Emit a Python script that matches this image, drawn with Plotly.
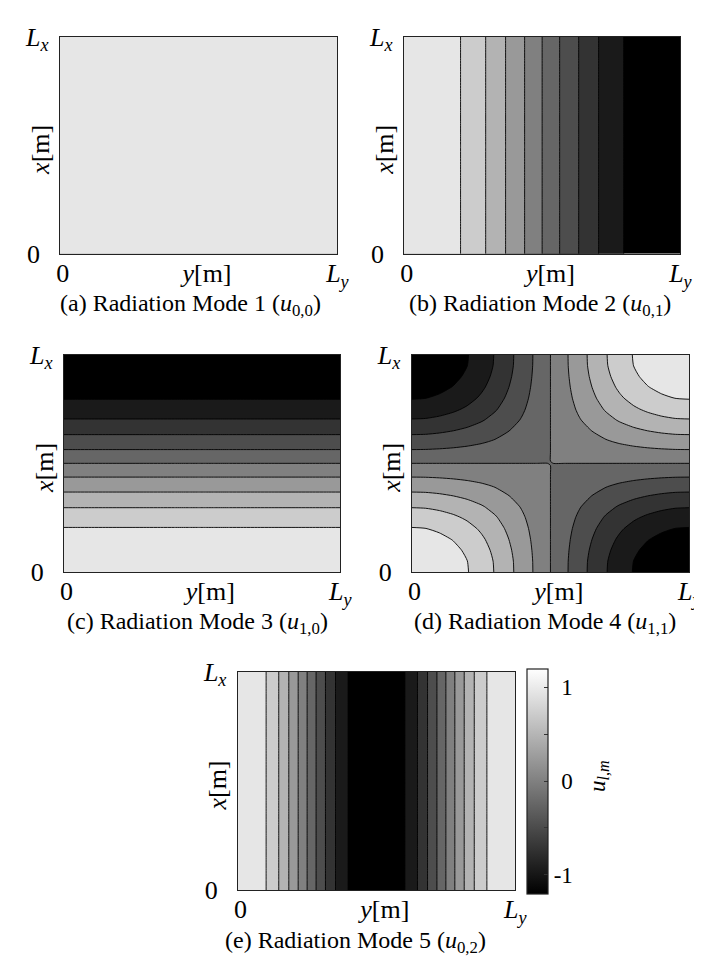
import plotly.graph_objects as go

# ---- data -----------------------------------------------------------------
# sample positions along each side, as fraction of the side length (0 .. L)
positions = [0.00, 0.05, 0.10, 0.15, 0.20, 0.25, 0.30, 0.35, 0.40, 0.45, 0.49, 0.50, 0.51,
             0.55, 0.60, 0.65, 0.70, 0.75, 0.80, 0.85, 0.90, 0.95, 1.00]

# 1-D mode profiles (order 0, 1, 2) estimated from the band boundaries
profile_order0 = [1.00, 1.00, 1.00, 1.00, 1.00, 1.00, 1.00, 1.00, 1.00, 1.00, 1.00, 1.00, 1.00,
                  1.00, 1.00, 1.00, 1.00, 1.00, 1.00, 1.00, 1.00, 1.00, 1.00]
profile_order1 = [1.00, 0.99, 0.95, 0.89, 0.81, 0.71, 0.59, 0.45, 0.31, 0.16, 0.03, 0.00, -0.03,
                  -0.16, -0.31, -0.45, -0.59, -0.71, -0.81, -0.89, -0.95, -0.99, -1.00]
profile_order2 = [1.00, 0.95, 0.81, 0.59, 0.31, 0.00, -0.31, -0.59, -0.81, -0.95, -1.00, -1.00, -1.00,
                  -0.95, -0.81, -0.59, -0.31, 0.00, 0.31, 0.59, 0.81, 0.95, 1.00]

mode_l = [0, 0, 1, 1, 0]          # order along x (vertical axis)
mode_m = [0, 1, 0, 1, 2]          # order along y (horizontal axis)
panel_letters = ["a", "b", "c", "d", "e"]
mode_numbers = [1, 2, 3, 4, 5]

x_tick_vals = [0.01, 0.53, 1.0]
x_tick_text = ["0", "<i>y</i>[m]", "<i>L</i><sub><i>y</i></sub>"]
y_tick_vals = [0, 1]
y_tick_text = ["0\u2004", "<i>L</i><sub><i>x</i></sub>"]
colorbar_ticks = [-1, -0.5, 0, 0.5, 1]
colorbar_tick_text = ["-1", "", "\u20040", "", "\u20041"]

level_start, level_end, level_step = -0.8, 0.8, 0.2
colorbar_min, colorbar_max = -1.2, 1.2

# ---- layout -------------------------------------------------------------------
W, H = 702, 966
FONT = "Liberation Serif"
AXIS_FS, CAP_FS, CB_FS = 26, 24, 23
# panel boxes in pixels: (left, right, top, bottom)
boxes = [(49, 333, 15, 239), (401, 684, 15, 239),
         (53, 336, 343, 567), (409, 693, 343, 567),
         (231, 515, 670, 895)]
caption_x = [183, 540, 190, 545, 352]

profiles = {0: profile_order0, 1: profile_order1, 2: profile_order2}

fig = go.Figure()
layout = dict(width=W, height=H, margin=dict(l=0, r=0, t=0, b=0),
              paper_bgcolor="white", plot_bgcolor="white", showlegend=False,
              font=dict(family=FONT, color="black"))
annotations = []

band_scale = [[0.0, "rgb(0,0,0)"], [1.0, "rgb(230,230,230)"]]
eps = 1e-9

for k in range(5):
    px = profiles[mode_l[k]]
    py = profiles[mode_m[k]]
    z = [[px[i] * py[j] for j in range(len(positions))] for i in range(len(positions))]
    sfx = "" if k == 0 else str(k + 1)
    fig.add_trace(go.Contour(
        x=positions, y=positions, z=z,
        xaxis="x" + sfx, yaxis="y" + sfx,
        autocontour=False,
        contours=dict(start=level_start + eps, end=level_end + eps, size=level_step,
                      coloring="fill", showlines=True),
        colorscale=band_scale, showscale=False,
        line=dict(color="black", width=0.9, smoothing=0.6),
        hoverinfo="skip",
    ))
    l, r, t, b = boxes[k]
    layout["xaxis" + sfx] = dict(
        domain=[l / W, r / W], range=[0, 1], anchor="y" + sfx,
        tickmode="array", tickvals=x_tick_vals, ticktext=x_tick_text,
        ticks="", showgrid=False, zeroline=False,
        showline=True, mirror=True, linecolor="#222", linewidth=1.2,
        tickfont=dict(size=AXIS_FS, family=FONT, color="black"), ticklabelstandoff=-4,
    )
    layout["yaxis" + sfx] = dict(
        domain=[1 - b / H, 1 - t / H], range=[0, 1], anchor="x" + sfx,
        tickmode="array", tickvals=y_tick_vals, ticktext=y_tick_text,
        ticks="", showgrid=False, zeroline=False,
        showline=True, mirror=True, linecolor="#222", linewidth=1.2,
        tickfont=dict(size=AXIS_FS, family=FONT, color="black"), ticklabelstandoff=5,
    )
    annotations.append(dict(
        text="<i>x</i>[m]", textangle=-90, xref="paper", yref="paper",
        xanchor="center", yanchor="middle",
        x=(l - 20.5) / W, y=1 - ((t + b) / 2 + 5) / H, showarrow=False,
        font=dict(size=AXIS_FS, family=FONT, color="black"),
    ))
    sub = "%d,%d" % (mode_l[k], mode_m[k])
    annotations.append(dict(
        text="(%s) Radiation Mode %d (<i>u</i><sub>%s</sub>)" % (panel_letters[k], mode_numbers[k], sub),
        xref="paper", yref="paper", xanchor="center", yanchor="middle",
        x=caption_x[k] / W, y=1 - (b + 53) / H,
        showarrow=False, font=dict(size=CAP_FS, family=FONT, color="black"),
    ))

# continuous colour bar for panel (e)
fig.add_trace(go.Scatter(
    x=[None], y=[None], mode="markers", xaxis="x5", yaxis="y5", hoverinfo="skip",
    marker=dict(color=[0], cmin=colorbar_min, cmax=colorbar_max,
                colorscale=[[0, "black"], [1, "white"]], showscale=True,
                colorbar=dict(x=527 / W, xanchor="left", y=1 - 782.5 / H, yanchor="middle",
                              len=225, lenmode="pixels", thickness=21, thicknessmode="pixels",
                              outlinewidth=1.2, outlinecolor="#222", xpad=0, ypad=0,
                              tickmode="array", tickvals=colorbar_ticks, ticktext=colorbar_tick_text,
                              ticks="inside", ticklen=4, tickcolor="#333",
                              tickfont=dict(size=CB_FS, family=FONT, color="black"))),
))
annotations.append(dict(
    text="<i>u</i><sub><i>l</i>,<i>m</i></sub>", textangle=-90, xref="paper", yref="paper",
    xanchor="center", yanchor="middle",
    x=600 / W, y=1 - 777 / H, showarrow=False, font=dict(size=CB_FS, family=FONT, color="black"),
))

layout["annotations"] = annotations
fig.update_layout(**layout)
fig.write_html("out.html")
